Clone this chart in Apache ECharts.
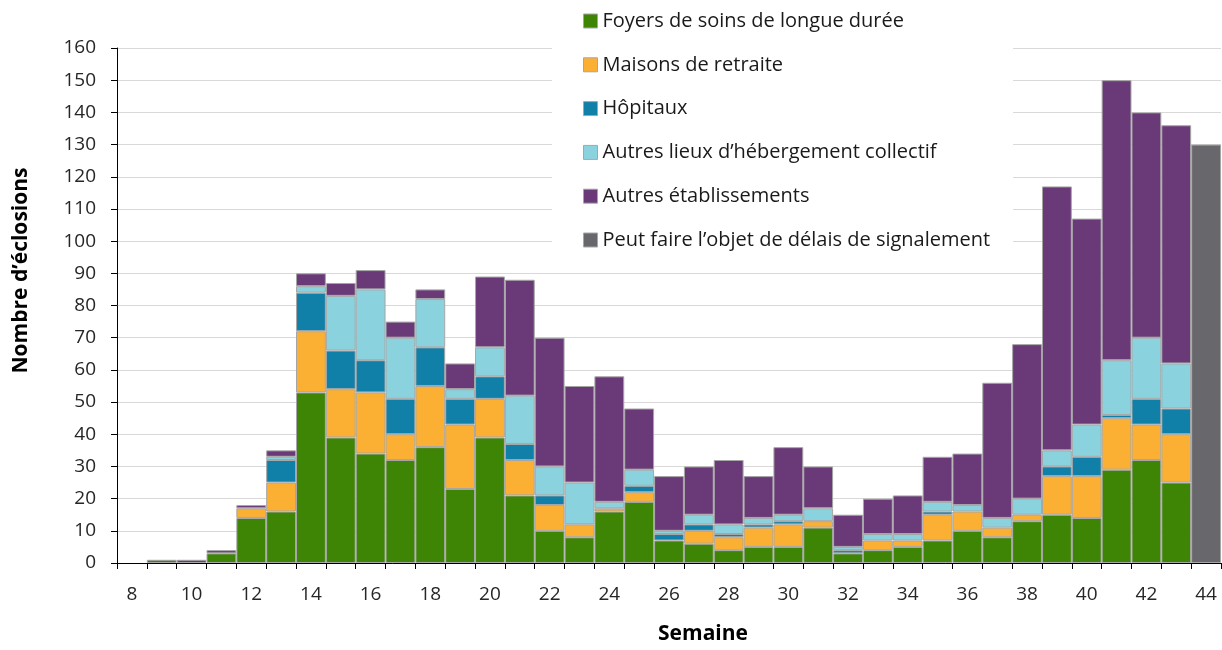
<!DOCTYPE html>
<html>
<head>
<meta charset="utf-8">
<script src="https://cdn.jsdelivr.net/npm/echarts@6/dist/echarts.min.js"></script>
<style>
html,body{margin:0;padding:0;background:#fff;}
#chart{width:1222px;height:650px;}
</style>
</head>
<body>
<div id="chart"></div>
<script>
const weeks = ['8','9','10','11','12','13','14','15','16','17','18','19','20','21','22','23','24','25','26','27','28','29','30','31','32','33','34','35','36','37','38','39','40','41','42','43','44'];
const foyers   = [0,1,0,3,14,16,53,39,34,32,36,23,39,21,10,8,16,19,7,6,4,5,5,11,3,4,5,7,10,8,13,15,14,29,32,25,0];
const maisons  = [0,0,0,0,3,9,19,15,19,8,19,20,12,11,8,4,1,3,0,4,4,6,7,2,0,3,2,8,6,3,2,12,13,16,11,15,0];
const hopitaux = [0,0,0,0,0,7,12,12,10,11,12,8,7,5,3,0,0,2,2,2,1,1,1,0,1,0,0,1,0,0,0,3,6,1,8,8,0];
const autresHeb= [0,0,0,0,0,1,2,17,22,19,15,3,9,15,9,13,2,5,1,3,3,2,2,4,1,2,2,3,2,3,5,5,10,17,19,14,0];
const autresEt = [0,0,1,1,1,2,4,4,6,5,3,8,22,36,40,30,39,19,17,15,20,13,21,13,10,11,12,14,16,42,48,82,64,87,70,74,0];
const delais   = [0,0,0,0,0,0,0,0,0,0,0,0,0,0,0,0,0,0,0,0,0,0,0,0,0,0,0,0,0,0,0,0,0,0,0,0,130];

const seriesNames = ['Foyers de soins de longue durée','Maisons de retraite','Hôpitaux','Autres lieux d\u2019hébergement collectif','Autres établissements','Peut faire l\u2019objet de délais de signalement'];
const seriesData = [foyers, maisons, hopitaux, autresHeb, autresEt, delais];
const colors = ['#3f8505','#fbb034','#1180a8','#8ad3de','#6a3a78','#68686c'];

const FONT = 'Open Sans';
const chart = echarts.init(document.getElementById('chart'), null, {renderer:'canvas'});
chart.setOption({
  animation:false,
  textStyle:{fontFamily:FONT},
  grid:{left:117, right:1, top:48, bottom:85},
  legend:{
    orient:'vertical', left:552, top:0,
    backgroundColor:'#fff',
    padding:[11,23,18,31],
    itemWidth:14, itemHeight:14, itemGap:23.8,
    textStyle:{fontFamily:FONT, fontSize:20, color:'#1a1a1a'},
    data:seriesNames.map((n,i)=>({name:n, icon:'rect', itemStyle:{color:colors[i], borderColor:'#a6a6a6', borderWidth:1}}))
  },
  xAxis:{
    type:'category', data:weeks,
    name:'Semaine', nameLocation:'middle', nameGap:61,
    nameTextStyle:{fontFamily:FONT, fontSize:21, fontWeight:'bold', color:'#000', padding:[0,0,0,68]},
    axisLine:{lineStyle:{color:'#000', width:1}},
    axisTick:{show:true, interval:0, length:6, lineStyle:{color:'#000'}},
    axisLabel:{interval:1, fontSize:19, color:'#262626', margin:22},
    splitLine:{show:false}
  },
  yAxis:{
    type:'value', min:0, max:160, interval:10,
    name:'Nombre d\u2019éclosions', nameLocation:'middle', nameGap:85, nameRotate:90,
    nameTextStyle:{fontFamily:FONT, fontSize:21, fontWeight:'bold', color:'#000', padding:[0,0,0,70]},
    axisLine:{show:true, lineStyle:{color:'#000', width:1}},
    axisTick:{show:true, inside:false, length:6, lineStyle:{color:'#000'}},
    axisLabel:{fontSize:19, color:'#262626', margin:21},
    splitLine:{show:true, lineStyle:{color:'#d9d9d9', width:1}}
  },
  series:seriesData.map((d,i)=>({
    name:seriesNames[i], type:'bar', stack:'total',
    barCategoryGap:'0%',
    itemStyle:{color:colors[i], borderColor:'#a6a6a6', borderWidth:1},
    data:d.map(v=> v===0 ? null : v)
  }))
});
</script>
</body>
</html>
